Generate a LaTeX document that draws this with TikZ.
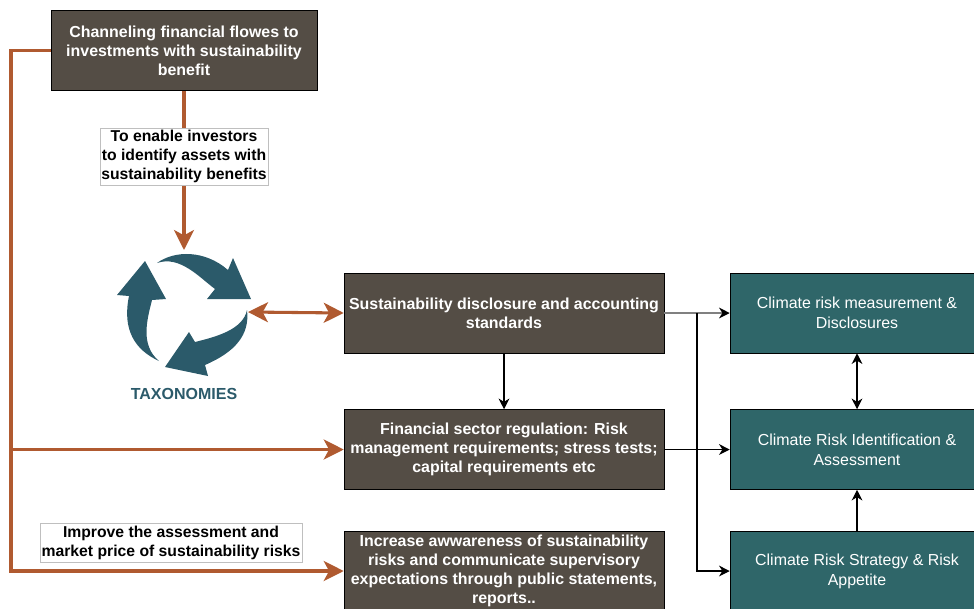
\documentclass[tikz,border=0pt]{standalone}
\usepackage{fontspec}
\setmainfont{Liberation Sans}
\usetikzlibrary{arrows.meta}
\definecolor{darkbox}{HTML}{544D45}
\definecolor{tealbox}{HTML}{2F6669}
\definecolor{taxo}{HTML}{2B5A6A}
\definecolor{rust}{HTML}{B05A30}
\begin{document}
\begin{tikzpicture}[x=.75pt,y=-.75pt,
  darknode/.style={draw=black,fill=darkbox,text=white,font=\bfseries\fontsize{11.95}{14.3}\selectfont,align=center,minimum height=60pt,inner sep=0pt},
  tealnode/.style={draw=black,fill=tealbox,text=white,font=\fontsize{11.95}{15}\selectfont,align=center,minimum width=190.5pt,minimum height=60pt,inner sep=0pt},
  note/.style={draw=black!25,fill=white,text=black,font=\bfseries\fontsize{11.8}{14.3}\selectfont,align=center,inner sep=0pt,line width=.5pt},
  rustline/.style={draw=rust,line width=2.3pt},
  rusthead/.style={-{Stealth[length=15pt,width=15pt,inset=4pt]}},
  thin arrow/.style={-{Stealth[length=8pt,width=8pt,inset=2.5pt,color=black]},line width=.85pt}
]
    \clip (0,0) rectangle (974,608);
    \node[darknode,minimum width=199.5pt] (flows) at (184,50.5) {Channeling financial flowes to\\investments with sustainability\\benefit};
    \node[darknode,minimum width=240pt] (standards) at (504,313) {Sustainability disclosure and accounting\\standards};
    \node[darknode,minimum width=240pt] (regulation) at (504,449.5) {Financial sector regulation: Risk\\management requirements; stress tests;\\capital requirements etc};
    \node[darknode,minimum width=240pt] (awareness) at (504,571) {Increase awwareness of sustainability\\risks and communicate supervisory\\expectations through public statements,\\reports..};
    \node[tealnode] (measure) at (857,313) {Climate risk measurement \&\\Disclosures};
    \node[tealnode] (identify) at (857,449.5) {Climate Risk Identification \&\\Assessment};
    \node[tealnode] (strategy) at (857,571) {Climate Risk Strategy \& Risk\\Appetite};
    \node[font=\bfseries\fontsize{12}{13}\selectfont,text=taxo] (taxonomies) at (184,394) {TAXONOMIES};

    % taxonomy cycle
    \fill[taxo] (157,263) .. controls (175,250) and (205,250) .. (228,270) -- (233,258) -- (251,299) -- (207,299) -- (215,289) .. controls (200,278) and (180,255) .. cycle;
    \fill[taxo] (247,310) .. controls (250,335) and (235,352) .. (205,365) -- (208,376) -- (165,367) -- (189,332) -- (195,342) .. controls (215,337) and (243,330) .. cycle;
    \fill[taxo] (159,361) .. controls (135,350) and (122,330) .. (129,296) -- (117,295) -- (145,261) -- (166,299) -- (152,300) .. controls (147,320) and (140,345) .. cycle;

    \coordinate (taxoin) at (184,250);
    \coordinate (taxoout) at (248,312);
    \coordinate (trunktop) at (11,50.5);
    \coordinate (trunkfork) at (11,449.5);

    \draw[rustline,rusthead] (flows.south) -- (taxoin) node[note,pos=.415,minimum width=126pt,minimum height=43pt] (enable) {To enable investors\\to identify assets with\\sustainability benefits};
    \draw[rustline,{Stealth[length=15pt,width=15pt,inset=4pt]}-{Stealth[length=15pt,width=15pt,inset=4pt]}] (taxoout) -- (standards.west);
    \draw[rustline,line join=miter] (flows.west) -- (trunktop) -- (trunkfork);
    \draw[rustline,rusthead] (trunkfork) -- (regulation.west);
    \draw[rustline,rusthead] (trunkfork) |- (awareness.west);
    \node[note,minimum width=196.5pt,minimum height=29pt] (improve) at (171,542.5) {Improve the assessment and\\market price of sustainability risks};

    \draw[thin arrow] (standards.south) -- (regulation.north);
    \draw[thin arrow,draw=black!50,line width=1.5pt] (standards.east) -- (measure.west);
    \draw[thin arrow] (regulation.east) -- (identify.west);
    \coordinate (branch) at (697,313);
    \draw[thin arrow] (branch) |- (strategy.west);
    \draw[thin arrow,{Stealth[length=8pt,width=8pt,inset=2.5pt]}-{Stealth[length=8pt,width=8pt,inset=2.5pt]}] (measure.south) -- (identify.north);
    \draw[thin arrow] (strategy.north) -- (identify.south);
\end{tikzpicture}
\end{document}
